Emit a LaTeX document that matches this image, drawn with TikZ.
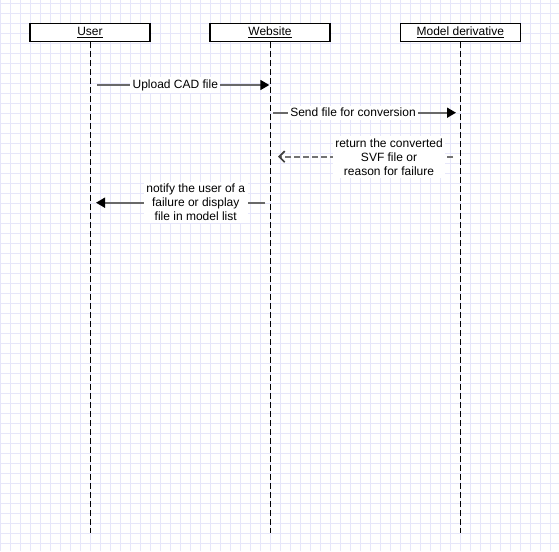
\documentclass[tikz,border=0pt]{standalone}
\usepackage{fontspec}
\setmainfont{Liberation Sans}
\usetikzlibrary{arrows.meta}
\definecolor{gridc}{RGB}{230,230,250}
\definecolor{linec}{RGB}{105,105,105}
\definecolor{retc}{RGB}{115,115,115}
\begin{document}
\begin{tikzpicture}[x=1pt,y=-1pt,
  headbox/.style={draw=black, line width=1.1pt, fill=white, minimum width=120pt,
    minimum height=18.4pt, inner sep=0pt, font=\fontsize{12}{14}\selectfont},
  lifeline/.style={draw=black, line width=1pt, dash pattern=on 6pt off 3pt},
  msg/.style={draw=linec, line width=1.7pt,
    -{Triangle[length=9pt,width=10pt,color=black,fill=black]}},
  retmsg/.style={draw=retc, line width=1.7pt, dash pattern=on 6pt off 3pt,
    -{Straight Barb[length=5.5pt,width=11pt,color=black!75]}},
  lbl/.style={fill=white, inner sep=2.5pt, align=center,
    font=\fontsize{12}{14}\selectfont, text=black}
]
\useasboundingbox (0,0) rectangle (559,551);
\fill[white] (0,0) rectangle (559,551);
% grid
\foreach \i in {0,...,55} \draw[gridc, line width=1pt] ({10*\i},0) -- ({10*\i},551);
\foreach \k in {0,...,54} \draw[gridc, line width=1pt] (0,{3.3+10*\k}) -- (559,{3.3+10*\k});

% lifeline heads
\node[headbox] (user) at (90,32.5) {\underline{User}};
\node[headbox] (web) at (270,32.5) {\underline{Website}};
\node[headbox] (md) at (460.3,32.5) {\underline{Model derivative}};

% lifeline ends
\coordinate (userend) at (90,532.7);
\coordinate (webend) at (270,532.7);
\coordinate (mdend) at (460.3,532.7);
\draw[lifeline] (user.south) -- (userend);
\draw[lifeline] (web.south) -- (webend);
\draw[lifeline] (md.south) -- (mdend);

% message end points
\coordinate (m1s) at (97,85);
\coordinate (m1e) at (269.3,85);
\coordinate (m2s) at (273,112.7);
\coordinate (m2e) at (456,112.7);
\coordinate (m3s) at (453,156.7);
\coordinate (m3e) at (278,156.7);
\coordinate (m4s) at (265,202.7);
\coordinate (m4e) at (96,202.7);

\draw[msg] (m1s) -- (m1e);
\draw[msg] (m2s) -- (m2e);
\draw[retmsg] (m3s) -- (m3e);
\draw[msg] (m4s) -- (m4e);

\node[lbl] (l1) at (175.3,85) {Upload CAD file};
\node[lbl] (l2) at (353,112.7) {Send file for conversion};
\node[lbl] (l3) at (389,157) {return the converted\\SVF file or\\reason for failure};
\node[lbl] (l4) at (195.7,202.5) {notify the user of a\\failure or display\\file in model list};
\end{tikzpicture}
\end{document}
